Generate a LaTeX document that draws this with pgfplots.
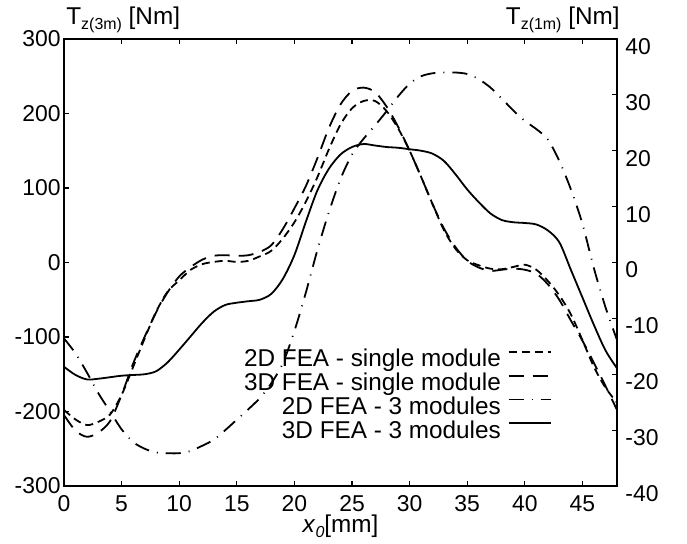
\documentclass[border=0pt]{standalone}
\usepackage{fontspec}
\setmainfont{Liberation Sans}
\usepackage{pgfplots}
\pgfplotsset{compat=1.18}

\newcommand{\lbl}{\fontsize{11.5}{13.5}\selectfont}
\newcommand{\lgd}{\fontsize{12.2}{14}\selectfont}
\pgfplotsset{
 common/.style={
  width=276.5bp, height=223.5bp, scale only axis,
  xmin=0, xmax=48, clip=false,
  tick align=inside, major tick length=2.5bp,
  axis line style={line width=0.9bp},
  every tick/.style={line width=0.6bp,black},
  every tick label/.append style={font=\lbl},
  /pgf/number format/assume math mode=true,
 },
 short/.style={black,line width=0.9bp,dash pattern=on 4bp off 2.5bp},
 long/.style={black,line width=0.9bp,dash pattern=on 7.5bp off 4.5bp},
 dashdot/.style={black,line width=0.9bp,dash pattern=on 7.5bp off 4bp on 0.5bp off 4bp},
 solidl/.style={black,line width=0.9bp},
}

\begin{document}
\begin{tikzpicture}
% right axis: single module, T_z(1m)
\begin{axis}[common, ymin=-40, ymax=40, ytick={-40,-30,...,40},
 hide x axis, ytick pos=right, yticklabel pos=right,
 yticklabel style={anchor=north west, inner sep=0pt, xshift=4bp, yshift=0.5bp}]
\addplot[short, smooth] coordinates {
(0,-26.4) (1,-28.1) (2,-29.1) (3,-28.5) (4,-27.2) (5,-23.7) (6,-18.7) (7,-13.6)
(8,-8.8) (9,-5.2) (10,-3.2) (11,-1.3) (12,-0.3) (13,0.1) (14,0.3) (15,0.1)
(16,0.3) (17,1.1) (18,2.1) (19,4.3) (20,7.2) (21,10.9) (22,15.3) (23,20.3)
(24,24.7) (25,27.6) (26,28.9) (27,28.9) (28,27.1) (29,24.0) (30,20.0) (31,15.3)
(32,10.4) (33,5.7) (34,2.4) (35,0.4) (36,-0.5) (37,-1.1) (38,-1.2) (39,-0.8)
(40,-0.4) (41,-1.3) (42,-3.3) (43,-5.9) (44,-9.3) (45,-13.9) (46,-18.7) (47,-22.4) (48,-25.1)};
\addplot[long, smooth] coordinates {
(0,-27.3) (1,-30.1) (2,-31.2) (3,-30.4) (4,-28.4) (5,-23.7) (6,-18.1) (7,-13.3)
(8,-8.9) (9,-5.3) (10,-2.5) (11,-0.8) (12,0.5) (13,1.2) (14,1.3) (15,1.2)
(16,1.3) (17,1.9) (18,3.1) (19,6.0) (20,9.7) (21,13.7) (22,18.7) (23,24.1)
(24,28.3) (25,30.7) (26,31.3) (27,30.5) (28,27.9) (29,24.3) (30,20.0) (31,15.3)
(32,10.4) (33,6.0) (34,2.7) (35,0.3) (36,-0.9) (37,-1.5) (38,-1.3) (39,-1.1)
(40,-1.3) (41,-2.0) (42,-3.9) (43,-6.7) (44,-10.4) (45,-14.0) (46,-18.0) (47,-22.1) (48,-26.4)};
\node[anchor=base east, inner sep=0pt, font=\lgd] at (rel axis cs:1,1) [xshift=1.5bp, yshift=7bp]
 {T\raisebox{-0.35ex}{\fontsize{8}{9}\selectfont z(1m)} [Nm]};
\end{axis}

% left axis: 3 modules, T_z(3m)
\begin{axis}[common, ymin=-300, ymax=300, ytick={-300,-200,...,300},
 xtick={0,5,...,45}, ytick pos=left,
 yticklabel style={anchor=east, inner sep=0pt, xshift=-1.5bp},
 xticklabel style={anchor=north, inner sep=0pt, yshift=-4.5bp},
 xlabel={\textit{x}\raisebox{-0.35ex}{\fontsize{8}{9}\selectfont\itshape 0}[mm]},
 xlabel style={at={(axis description cs:0.5,0)}, anchor=base, yshift=-23.5bp, inner sep=0pt, font=\lgd},
 legend cell align=right, legend plot pos=right,
 legend image code/.code={\draw[#1] (0bp,4.2bp) -- (21bp,4.2bp);},
 legend style={at={(axis cs:42.36,-116)}, anchor=north east, draw=none, fill=none,
  inner sep=0pt, font=\lgd, row sep=0.65bp, column sep=3.5bp,
  nodes={inner sep=0pt, text height=8.8bp, text depth=2.4bp}}]
\addlegendimage{short}
\addlegendentry{2D FEA - single module}
\addlegendimage{long}
\addlegendentry{3D FEA - single module}
\addplot[dashdot, smooth] coordinates {
(0,-102) (1,-122) (2,-148) (3,-176) (4,-200) (5,-224) (6,-241) (7,-250)
(8,-255) (9,-256) (10,-256) (11,-253) (12,-246) (13,-238) (14,-225) (15,-211)
(16,-197) (17,-182) (18,-162) (19,-135) (20,-92) (21,-40) (22,17) (23,68)
(24,112) (25,145) (26,166) (27,184) (28,203) (29,223) (30,240) (31,250)
(32,254) (33,255) (34,255) (35,253) (36,246) (37,235) (38,220) (39,204)
(40,190) (41,179) (42,165) (43,136) (44,98) (45,52) (46,-8) (47,-60) (48,-104)};
\addlegendentry{2D FEA - 3 modules}
\addplot[solidl, smooth] coordinates {
(0,-140) (1,-151) (2,-157) (3,-156) (4,-154) (5,-152) (6,-151) (7,-150)
(8,-146) (9,-134) (10,-117) (11,-99) (12,-81) (13,-66) (14,-57) (15,-54)
(16,-52) (17,-50) (18,-42) (19,-22) (20,10) (21,55) (22,97) (23,126)
(24,145) (25,155) (26,159) (27,157) (28,155) (29,154) (30,152) (31,150)
(32,146) (33,136) (34,118) (35,98) (36,81) (37,66) (38,57) (39,54)
(40,53) (41,51) (42,43) (43,27) (44,-10) (45,-47) (46,-84) (47,-118) (48,-142)};
\addlegendentry{3D FEA - 3 modules}
\node[anchor=base west, inner sep=0pt, font=\lgd] at (rel axis cs:0,1) [xshift=1bp, yshift=7bp]
 {T\raisebox{-0.35ex}{\fontsize{8}{9}\selectfont z(3m)} [Nm]};
\end{axis}
\path ([shift={(-32bp,-29bp)}]current axis.south west) rectangle ([shift={(35bp,19.5bp)}]current axis.north east);
\end{tikzpicture}
\end{document}
